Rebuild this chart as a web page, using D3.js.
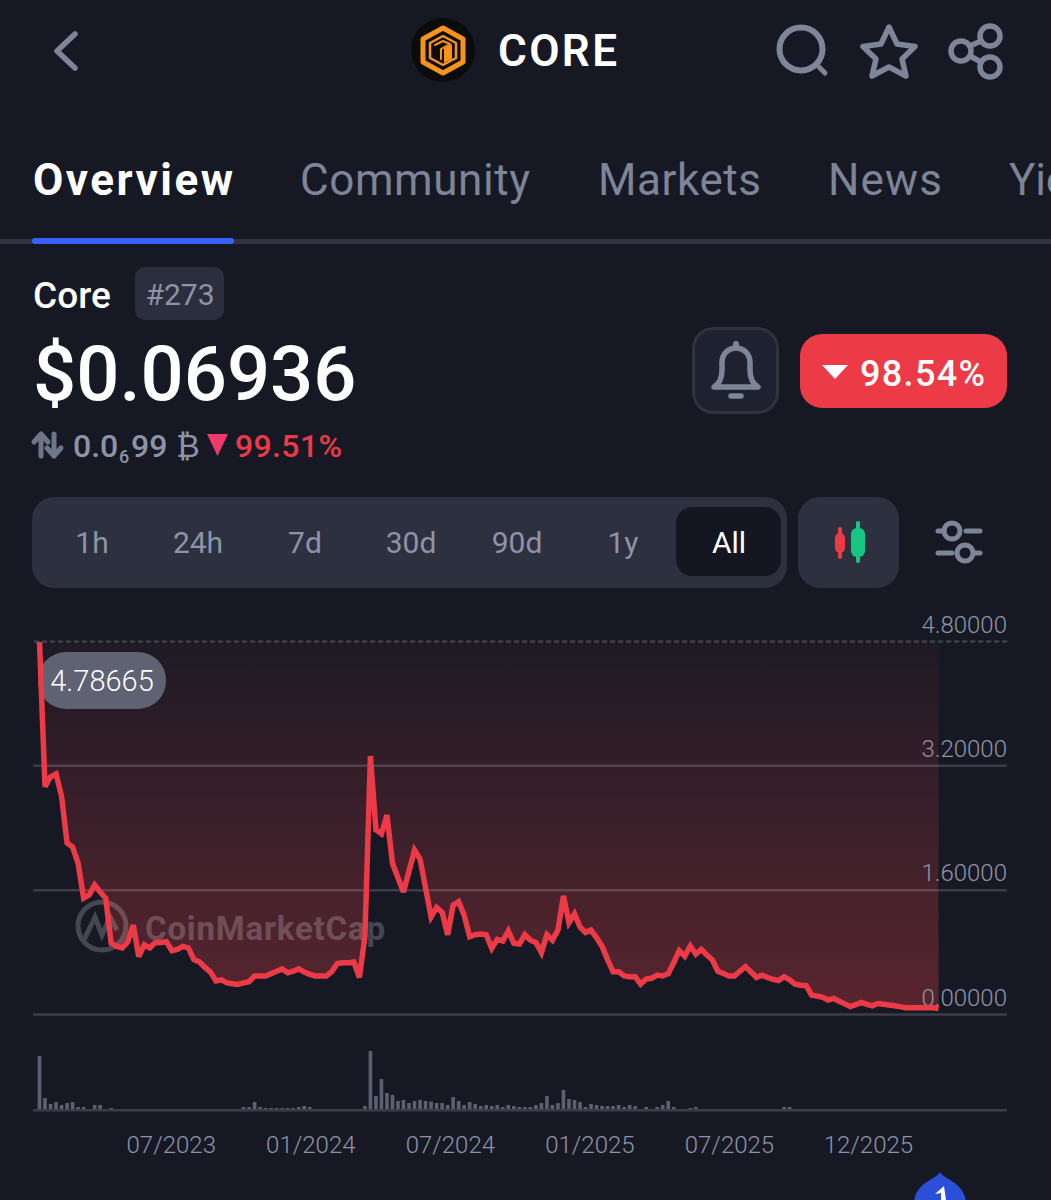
<!DOCTYPE html>
<html>
<head>
<meta charset="utf-8">
<script src="https://cdn.jsdelivr.net/npm/d3@7"></script>
<style>
  html, body { margin: 0; padding: 0; background: #161924; }
  svg { display: block; font-family: Roboto, sans-serif; }
</style>
</head>
<body>
<svg id="chart"></svg>
<script>
// Data, one value per week
const priceValues = [
  4.787, 2.925, 3.05, 3.09, 2.80, 2.20, 2.15, 1.94, 1.49, 1.53,
  1.66, 1.57, 1.49, .91, .87, .85, .93, 1.145, .74, .89,
  .85, .92, .92, .93, .815, .83, .87, .85, .70, .67,
  .60, .54, .425, .44, .40, .39, .38, .40, .415, .49,
  .49, .49, .52, .55, .58, .53, .55, .58, .54, .51,
  .49, .49, .49, .545, .65, .66, .66, .67, .47, .995,
  3.32, 2.37, 2.32, 2.56, 1.94, 1.75, 1.57, 1.84, 2.11, 1.995,
  1.62, 1.25, 1.37, 1.31, 1.02, 1.40, 1.445, 1.27, .995, 1.02,
  1.03, 1.02, .845, .96, .94, 1.07, .91, .90, 1.02, .95,
  .92, .79, 1.02, .95, 1.08, 1.52, 1.175, 1.29, 1.12, 1.05,
  1.08, .98, .87, .70, .545, .545, .49, .48, .48, .385,
  .45, .46, .50, .49, .52, .66, .815, .745, .875, .77,
  .83, .76, .695, .55, .52, .49, .49, .55, .61, .54,
  .47, .50, .47, .445, .43, .48, .44, .385, .37, .365,
  .245, .23, .215, .18, .20, .165, .13, .095, .12, .15,
  .125, .105, .135, .125, .115, .105, .095, .08, .08, .08,
  .08, .08, .08, .07
];
const volumeValues = [
  54, 12, 6, 8, 5, 7, 8, 3, 3, 0,
  5, 5, 0, 2, 0, 0, 0, 0, 0, 0,
  0, 0, 0, 0, 0, 0, 0, 0, 0, 0,
  0, 0, 0, 0, 0, 0, 0, 3, 3, 8,
  3, 2, 2, 2, 2, 2, 2, 3, 4, 3,
  0, 0, 0, 0, 0, 0, 0, 0, 0, 4,
  59, 14, 31, 17, 15, 9, 10, 7, 9, 10,
  9, 8.5, 7, 7, 5, 13, 9, 5, 8, 6,
  4, 5, 4, 5, 3, 5, 4, 3, 3, 3,
  5, 7, 14, 5, 7, 20, 11, 10, 8, 3,
  6, 5, 4, 4, 4, 5, 3, 5, 4, 0,
  3, 0, 3, 5, 9, 3, 0, 0, 2, 3,
  0, 0, 0, 0, 0, 0, 0, 0, 0, 0,
  0, 0, 0, 0, 0, 3, 3, 0, 0, 0,
  0, 0, 0, 0, 0, 0, 0, 0, 0, 0,
  0, 0, 0, 0, 0, 0, 0, 0, 0, 0,
  0, 0, 0, 0
];
const priceTicks = [0, 1.6, 3.2, 4.8];
const dateTickWeeks = [23.8, 49.1, 74.4, 99.7, 125, 150.2];
const dateTickLabels = ['07/2023', '01/2024', '07/2024', '01/2025', '07/2025', '12/2025'];
const tabNames = ['Overview', 'Community', 'Markets', 'News', 'Yie'];
const rangeNames = ['1h', '24h', '7d', '30d', '90d', '1y', 'All'];

let width = 1051;
let height = 1200;
let svg = d3.select('#chart').attr('width', width).attr('height', height);

const grey = '#8e94a8';
const iconGrey = '#7e8599';
const red = '#ec3a47';

let addText = (str, x, y, size, fill, weight, anchor) => {
    return svg.append('text')
        .attr('x', x).attr('y', y)
        .attr('font-size', size)
        .attr('fill', fill)
        .attr('font-weight', weight || 400)
        .attr('text-anchor', anchor || 'start')
        .text(str);
};

let addPath = (d, stroke, sw, fill) => {
    return svg.append('path')
        .attr('d', d)
        .attr('stroke', stroke || 'none')
        .attr('stroke-width', sw || 0)
        .attr('fill', fill || 'none')
        .attr('stroke-linecap', 'round')
        .attr('stroke-linejoin', 'round');
};

let addRect = (x, y, w, h, r, fill) => {
    return svg.append('rect')
        .attr('x', x).attr('y', y)
        .attr('width', w).attr('height', h)
        .attr('rx', r)
        .attr('fill', fill);
};

let addCircle = (cx, cy, r, stroke, sw, fill) => {
    return svg.append('circle')
        .attr('cx', cx).attr('cy', cy).attr('r', r)
        .attr('stroke', stroke || 'none')
        .attr('stroke-width', sw || 0)
        .attr('fill', fill || 'none');
};

// Header
let drawHeader = () => {
    addPath('M75,34 L57,51 L75,68', iconGrey, 5.5);

    addCircle(443, 50, 32, null, 0, '#0c0b0c');
    addPath('M443,28 L463,39 L463,62 L443,73 L423,62 L423,39 Z', '#f7931a', 5);
    addPath('M443,36 L456,43 L456,58 L443,65 L430,58 L430,43 Z', '#f7931a', 2.5);
    addPath('M444,48 L452,44 L452,59 L444,63 Z', null, 0, '#f7931a');
    addPath('M435,45 L443,41 L450,44 L441,49 L441,59', '#f7931a', 2);

    addText('CORE', 498, 66, 44, '#fff', 600).attr('textLength', 119);

    addCircle(801, 49, 21.5, iconGrey, 6);
    addPath('M817,65 L825,73', iconGrey, 5);
    addPath('M889,27 L897,44 L915,46.5 L902,59 L906,76 L889,67 L872,76 L876,59 L863,46.5 L881,44 Z', iconGrey, 5.5);
    addCircle(990, 36, 10, iconGrey, 5.5);
    addCircle(961, 51, 10, iconGrey, 5.5);
    addCircle(990, 67, 10, iconGrey, 5.5);
    addPath('M970,46 L981,41 M970,56 L981,62', iconGrey, 5.5);
};

// Tabs
let drawTabs = () => {
    const tabX = [33, 300, 598, 828, 1009];
    const tabW = [200, 230, 163, 114, 60];
    tabNames.forEach((name, i) => {
        addText(name, tabX[i], 195, 44, i === 0 ? '#fff' : iconGrey, i === 0 ? 700 : 400)
            .attr('textLength', tabW[i]);
    });
    addRect(0, 239, width, 5, 0, '#30323f');
    addRect(32, 238, 202, 6, 3, '#3861fb');
};

// Name, price and change
let drawSummary = () => {
    addText('Core', 33, 308, 37, '#fff', 500);
    addRect(135, 267, 89, 53, 10, '#2b2e3c');
    addText('#273', 180, 305, 30, grey, 400, 'middle');
    addText('$0.06936', 33, 400, 76, '#fff', 500);

    addPath('M41,456 L41,436 M34,442 L41,434 L48,442', '#6e7689', 5);
    addPath('M54,434 L54,454 M47,448 L54,456 L61,448', '#6e7689', 5);
    addText('0.0', 73, 457, 32, grey, 500);
    addText('6', 119, 463, 18, grey, 500);
    addText('99', 131, 457, 32, grey, 500);
    addText('₿', 176, 457, 32, grey, 400);
    addPath('M207,434 L228,434 L217.5,456 Z', null, 0, '#f0386b');
    addText('99.51%', 235, 457, 32, red, 500).attr('textLength', 107);

    addRect(693.5, 328.5, 84, 84, 20, '#1e2130')
        .attr('stroke', '#30333f').attr('stroke-width', 3);
    addPath('M714,387 Q722,382 722,370 L722,363 C722,343 750,343 750,363 L750,370 Q750,382 758,387 Z', iconGrey, 5.5);
    addPath('M736,344 L736,346', iconGrey, 6);
    addPath('M731,396 L741,396', iconGrey, 5.5);

    addRect(800, 334, 207, 74, 22, red);
    addPath('M822,365 L848,365 L835,379 Z', null, 0, '#fff');
    addText('98.54%', 860, 386, 36, '#fff', 500).attr('textLength', 125);
};

// Range selector
let drawRangeBar = () => {
    const rangeCentres = [92, 198, 305, 411, 517, 623, 729];
    addRect(32, 497, 755, 91, 22, '#2d303e');
    addRect(676, 507, 105, 69, 16, '#141722');
    rangeNames.forEach((name, i) => {
        addText(name, rangeCentres[i], 553, 30, name === 'All' ? '#fff' : grey, 400, 'middle');
    });

    addRect(798, 497, 101, 91, 22, '#2d303e');
    addPath('M840,529 L840,557', red, 4);
    addRect(835, 533, 10, 20, 5, red);
    addPath('M858,523 L858,561', '#16c784', 4);
    addRect(851, 528, 14, 29, 6, '#16c784');

    addPath('M938,531 L944,531 M966,531 L980,531 M938,553 L952,553 M974,553 L980,553', iconGrey, 5);
    addCircle(952, 531, 8, iconGrey, 5);
    addCircle(965, 553, 8, iconGrey, 5);
};

let xScale;
let yScale;
let volumeScale;

// Generate Scales
let generateScales = () => {
    xScale = d3.scaleLinear()
            .domain([0, priceValues.length - 1])
            .range([39.5, 938.5]);
    yScale = d3.scaleLinear()
            .domain([0, 4.8])
            .range([1014, 641]);
    volumeScale = d3.scaleLinear()
            .domain([0, 59])
            .range([1110, 1051]);
};

// Draw price area, line and axes
let drawChart = () => {
    let defs = svg.append('defs');
    let grad = defs.append('linearGradient')
        .attr('id', 'areaFill')
        .attr('gradientUnits', 'userSpaceOnUse')
        .attr('x1', 0).attr('x2', 0)
        .attr('y1', yScale(4.8)).attr('y2', yScale(0));
    grad.append('stop').attr('offset', 0).attr('stop-color', '#1e1a24');
    grad.append('stop').attr('offset', 1).attr('stop-color', '#5a252f');

    let area = d3.area()
        .x((d, i) => xScale(i))
        .y0(yScale(4.8))
        .y1((d) => yScale(d));
    svg.append('path')
        .datum(priceValues)
        .attr('d', area)
        .attr('fill', 'url(#areaFill)');

    // Watermark sits between the area and the line
    let mark = svg.append('g').attr('opacity', .2);
    mark.append('circle')
        .attr('cx', 102).attr('cy', 926).attr('r', 24)
        .attr('fill', 'none').attr('stroke', '#fff').attr('stroke-width', 5);
    mark.append('path')
        .attr('d', 'M84,940 L95,917 L102,935 L110,917 L117,930')
        .attr('fill', 'none').attr('stroke', '#fff').attr('stroke-width', 5);
    mark.append('text')
        .attr('x', 145).attr('y', 940)
        .attr('font-size', 33).attr('font-weight', 700).attr('fill', '#fff')
        .attr('textLength', 240)
        .text('CoinMarketCap');

    // Price axis with its grid lines
    let yAxis = d3.axisRight(yScale)
        .tickValues(priceTicks)
        .tickFormat(d3.format('.5f'))
        .tickSize(-974);
    let yG = svg.append('g')
        .attr('transform', 'translate(1007,0)')
        .call(yAxis);
    yG.select('.domain').remove();
    yG.selectAll('line')
        .attr('stroke', '#fff')
        .attr('stroke-opacity', .16)
        .attr('stroke-width', 2.5)
        .attr('stroke-dasharray', (d) => d === 4.8 ? '5 3' : null);
    yG.selectAll('text')
        .attr('x', 0)
        .attr('dy', -9)
        .attr('text-anchor', 'end')
        .attr('font-family', 'Roboto, sans-serif')
        .attr('font-size', 24)
        .attr('font-weight', 300)
        .attr('fill', grey);

    addRect(38, 652, 128, 57, 28, '#5f6272');

    let line = d3.line()
        .x((d, i) => xScale(i))
        .y((d) => yScale(d));
    svg.append('path')
        .datum(priceValues)
        .attr('d', line)
        .attr('fill', 'none')
        .attr('stroke', red)
        .attr('stroke-width', 5.5)
        .attr('stroke-linejoin', 'miter')
        .attr('stroke-miterlimit', 3);

    addText('4.78665', 102, 691, 29, '#fff', 300, 'middle');
};

// Draw volume bars and date axis
let drawVolume = () => {
    svg.selectAll('.bar')
        .data(volumeValues)
        .enter()
        .append('rect')
        .attr('class', 'bar')
        .attr('x', (d, i) => xScale(i) - 1.8)
        .attr('y', (d) => volumeScale(d))
        .attr('width', 3.6)
        .attr('height', (d) => volumeScale(0) - volumeScale(d))
        .attr('fill', '#5d6071');

    let xAxis = d3.axisBottom(xScale)
        .tickValues(dateTickWeeks)
        .tickFormat((d, i) => dateTickLabels[i])
        .tickSize(0)
        .tickPadding(26);
    let xG = svg.append('g')
        .attr('transform', 'translate(0,1110)')
        .call(xAxis);
    xG.select('.domain').remove();
    xG.selectAll('text')
        .attr('font-family', 'Roboto, sans-serif')
        .attr('font-size', 24)
        .attr('font-weight', 300)
        .attr('fill', grey);

    addRect(33, 1109, 974, 2.5, 0, '#3a3c48');
};

// Blue badge cut off by the bottom edge
let drawBadge = () => {
    addPath('M940,1172 C944,1180 966,1182 966,1205 L914,1205 C914,1182 936,1180 940,1172 Z', null, 0, '#2b4fd8');
    addPath('M944,1186 L935,1194 L941,1193 L941,1200 L946,1200 Z', null, 0, '#fff');
};

drawHeader();
drawTabs();
drawSummary();
drawRangeBar();
generateScales();
drawChart();
drawVolume();
drawBadge();
</script>
</body>
</html>
